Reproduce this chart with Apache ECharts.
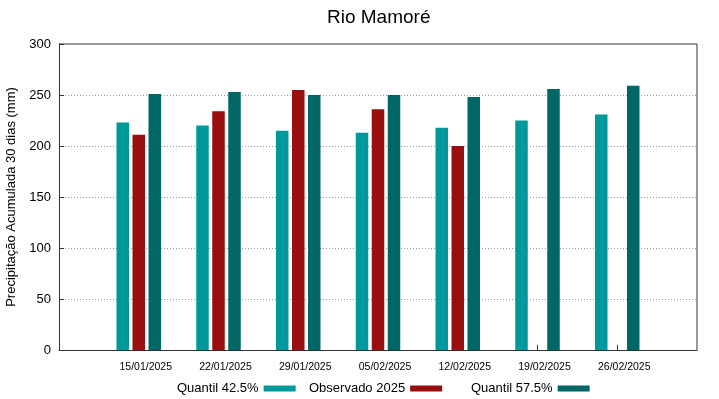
<!DOCTYPE html>
<html>
<head>
<meta charset="utf-8">
<script src="https://cdn.jsdelivr.net/npm/echarts@6/dist/echarts.min.js"></script>
<style>html,body{margin:0;padding:0;background:#fff}#c{width:719px;height:399px}</style>
</head>
<body>
<div id="c"></div>
<script>
const dates = ['15/01/2025','22/01/2025','29/01/2025','05/02/2025','12/02/2025','19/02/2025','26/02/2025'];
const q425 = [223, 220, 215, 213, 218, 225, 231];
const obs2025 = [211, 234, 255, 236, 200, null, null];
const q575 = [251, 253, 250, 250, 248, 256, 259];
const yTicks = [0, 50, 100, 150, 200, 250, 300];

const font = '"Liberation Sans", Arial, sans-serif';
const pos = dates.map((d, i) => i + 1);
const toXY = arr => arr.map((v, i) => [i + 1, v == null ? '-' : v]);

const chart = echarts.init(document.getElementById('c'));
chart.setOption({
  animation: false,
  textStyle: { fontFamily: font },
  title: {
    text: 'Rio Mamoré', left: 322, top: 3,
    textStyle: { fontFamily: font, fontSize: 19, fontWeight: 'normal', color: '#000' }
  },
  grid: { left: 59, right: 22, top: 44, bottom: 49, outerBoundsMode: 'none', containLabel: false },
  legend: [
    { data: ['Quantil 42.5%'], left: 172, top: 377, align: 'right', icon: 'rect', itemWidth: 32, itemHeight: 6,
      textStyle: { fontFamily: font, fontSize: 13, color: '#000' } },
    { data: ['Observado 2025'], left: 304, top: 377, align: 'right', icon: 'rect', itemWidth: 32, itemHeight: 6,
      textStyle: { fontFamily: font, fontSize: 13, color: '#000' } },
    { data: ['Quantil 57.5%'], left: 466, top: 377, align: 'right', icon: 'rect', itemWidth: 32, itemHeight: 6,
      textStyle: { fontFamily: font, fontSize: 13, color: '#000' } }
  ],
  xAxis: {
    type: 'value', min: 0, max: 8, interval: 1,
    axisLine: { show: true, lineStyle: { color: '#333', width: 1 } },
    axisTick: { show: true, inside: true, length: 5, customValues: pos, lineStyle: { color: '#333' } },
    axisLabel: {
      customValues: pos, margin: 12, fontSize: 10.5, color: '#000', fontFamily: font,
      padding: [0, 0, 0, 14],
      formatter: v => dates[Math.round(v) - 1] || ''
    },
    splitLine: { show: false }
  },
  yAxis: {
    type: 'value', min: 0, max: 300, interval: 50,
    name: 'Precipitação Acumulada 30 dias (mm)', nameLocation: 'middle', nameGap: 37,
    nameTextStyle: { fontFamily: font, fontSize: 13, color: '#000' },
    axisLine: { show: true, lineStyle: { color: '#333', width: 1 } },
    axisTick: { show: true, inside: true, length: 5, lineStyle: { color: '#333' } },
    axisLabel: { fontSize: 13, color: '#000', margin: 8, fontFamily: font,
      formatter: v => yTicks.includes(v) ? String(v) : '' },
    splitLine: { show: true, lineStyle: { color: '#999', type: [1, 2], width: 1 } }
  },
  series: [
    { name: 'Quantil 42.5%', type: 'bar', data: toXY(q425), barWidth: 12.5, barGap: '28%',
      itemStyle: { color: '#009999' } },
    { name: 'Observado 2025', type: 'bar', data: toXY(obs2025), barWidth: 12.5, barGap: '28%',
      itemStyle: { color: '#990e0e' } },
    { name: 'Quantil 57.5%', type: 'bar', data: toXY(q575), barWidth: 12.5, barGap: '28%',
      itemStyle: { color: '#006666' } }
  ],
  graphic: [
    { type: 'line', shape: { x1: 59, y1: 44, x2: 697, y2: 44 }, style: { stroke: '#333', lineWidth: 1 } },
    { type: 'line', shape: { x1: 697, y1: 44, x2: 697, y2: 350 }, style: { stroke: '#333', lineWidth: 1 } }
  ]
});
</script>
</body>
</html>
